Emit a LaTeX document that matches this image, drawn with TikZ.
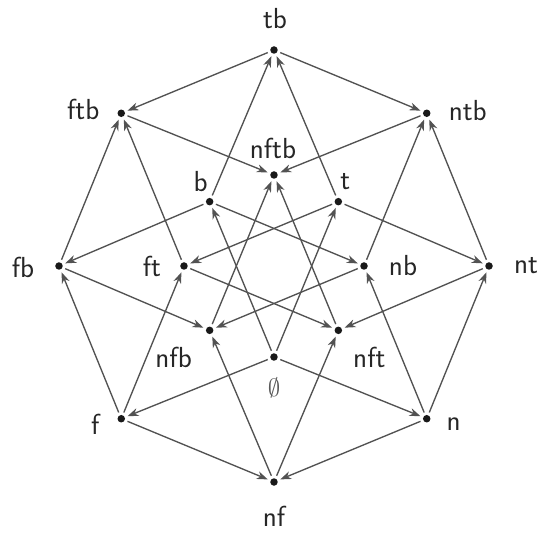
\documentclass[tikz,border=0pt]{standalone}
\usetikzlibrary{arrows.meta}
\begin{document}
\begin{tikzpicture}[x=1pt,y=1pt,
  vtx/.style={circle,fill=black!90,inner sep=0pt,minimum size=7.5pt,outer sep=3pt},
  lbl/.style={font=\sffamily\fontsize{29}{34}\selectfont,text=black!85,inner sep=0pt},
  arr/.style={draw=black!68,line width=1.35pt,-{Stealth[length=11pt,width=8pt,inset=3.5pt]}}]
\useasboundingbox (-274,-269) rectangle (264,266);
% outer octagon
\node[vtx] (tb)  at (90:216) {};
\node[vtx] (ntb) at (45:216) {};
\node[vtx] (nt)  at (0:215) {};
\node[vtx] (n)   at (-45:216) {};
\node[vtx] (nf)  at (-90:216) {};
\node[vtx] (f)   at (-135:216) {};
\node[vtx] (fb)  at (180:215) {};
\node[vtx] (ftb) at (135:216) {};
% inner octagon
\node[vtx] (nftb) at (90:91) {};
\node[vtx] (t)    at (45:91) {};
\node[vtx] (nb)   at (0:90) {};
\node[vtx] (nft)  at (-45:91) {};
\node[vtx] (e)    at (-90:91) {};
\node[vtx] (nfb)  at (-135:91) {};
\node[vtx] (ft)   at (180:90) {};
\node[vtx] (b)    at (135:91) {};
% labels
\node[lbl] (tbL)   at ([shift={(1,31)}]tb) {tb};
\node[lbl] (ntbL)  at ([shift={(41,3)}]ntb) {ntb};
\node[lbl] (ntL)   at ([shift={(37,0)}]nt) {nt};
\node[lbl] (nL)    at ([shift={(27,-5)}]n) {n};
\node[lbl] (nfL)   at ([shift={(0,-34)}]nf) {nf};
\node[lbl] (fL)    at ([shift={(-26,-6)}]f) {f};
\node[lbl] (fbL)   at ([shift={(-36,-1)}]fb) {fb};
\node[lbl] (ftbL)  at ([shift={(-38,4)}]ftb) {ftb};
\node[lbl] (nftbL) at ([shift={(-1,27)}]nftb) {nftb};
\node[lbl] (tL)    at ([shift={(7,20)}]t) {t};
\node[lbl] (nbL)   at ([shift={(39,0)}]nb) {nb};
\node[lbl] (nftL)  at ([shift={(31,-27)}]nft) {nft};
\node[lbl,text=black!65] (eL) at ([shift={(0,-31)}]e) {$\emptyset$};
\node[lbl] (nfbL)  at ([shift={(-36,-27)}]nfb) {nfb};
\node[lbl] (ftL)   at ([shift={(-32,0)}]ft) {ft};
\node[lbl] (bL)    at ([shift={(-9,20)}]b) {b};
% edges: subset -> superset
\draw[arr] (e) -- (n);   \draw[arr] (e) -- (f);
\draw[arr] (e) -- (t);   \draw[arr] (e) -- (b);
\draw[arr] (n) -- (nf);  \draw[arr] (n) -- (nt);  \draw[arr] (n) -- (nb);
\draw[arr] (f) -- (nf);  \draw[arr] (f) -- (ft);  \draw[arr] (f) -- (fb);
\draw[arr] (t) -- (nt);  \draw[arr] (t) -- (ft);  \draw[arr] (t) -- (tb);
\draw[arr] (b) -- (nb);  \draw[arr] (b) -- (fb);  \draw[arr] (b) -- (tb);
\draw[arr] (nf) -- (nft); \draw[arr] (nf) -- (nfb);
\draw[arr] (nt) -- (nft); \draw[arr] (nt) -- (ntb);
\draw[arr] (nb) -- (nfb); \draw[arr] (nb) -- (ntb);
\draw[arr] (ft) -- (nft); \draw[arr] (ft) -- (ftb);
\draw[arr] (fb) -- (nfb); \draw[arr] (fb) -- (ftb);
\draw[arr] (tb) -- (ntb); \draw[arr] (tb) -- (ftb);
\draw[arr] (nft) -- (nftb); \draw[arr] (nfb) -- (nftb);
\draw[arr] (ntb) -- (nftb); \draw[arr] (ftb) -- (nftb);
\end{tikzpicture}
\end{document}
